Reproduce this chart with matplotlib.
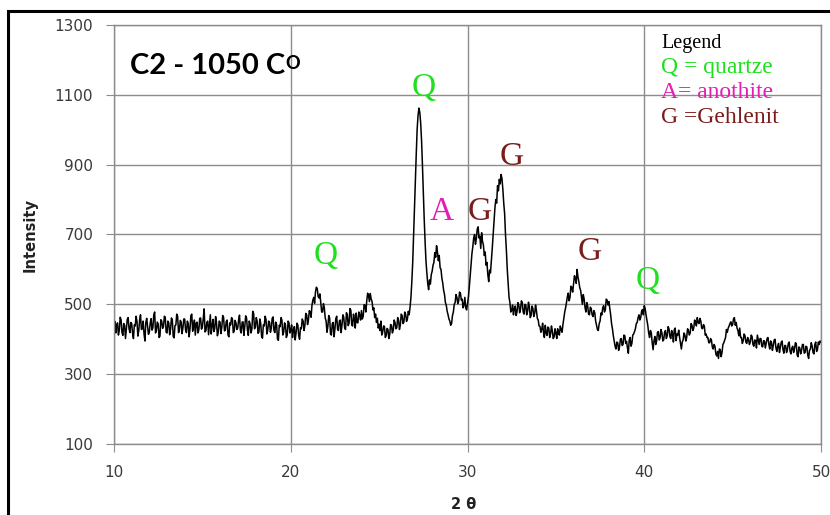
#XRD pattern of sample C2 fired at 1050 C with phase labels
import matplotlib
matplotlib.use("Agg")
import matplotlib.pyplot as plt
import numpy as np
from matplotlib.patches import Rectangle

# 2 theta from 10 to 50 in 0.05 deg steps
two_theta = np.round(np.arange(10, 50.025, 0.05), 2)

# intensity counts, one row per degree (x.00 .. x.95)
intensity = [
    432, 451, 418, 440, 447, 412, 425, 463, 456, 420, 411, 445, 440, 402, 428, 457, 462, 430, 419, 448,  # 10
    445, 417, 402, 441, 438, 466, 451, 409, 424, 455, 470, 428, 430, 452, 415, 395, 448, 460, 436, 414,  # 11
    421, 447, 459, 426, 433, 470, 478, 418, 426, 449, 444, 405, 409, 456, 452, 431, 437, 466, 463, 420,  # 12
    418, 452, 447, 413, 429, 461, 455, 408, 404, 439, 441, 472, 466, 419, 425, 454, 450, 416, 433, 458,  # 13
    458, 426, 419, 452, 445, 407, 430, 468, 472, 423, 438, 455, 412, 446, 449, 418, 427, 460, 461, 429,  # 14
    436, 459, 487, 421, 424, 448, 452, 413, 440, 470, 415, 439, 457, 422, 431, 465, 446, 410, 420, 452,  # 15
    449, 416, 434, 468, 463, 424, 426, 451, 455, 412, 407, 447, 441, 462, 458, 419, 423, 454, 447, 428,  # 16
    432, 455, 469, 425, 418, 449, 450, 411, 437, 467, 461, 426, 411, 452, 444, 418, 428, 480, 474, 430,  # 17
    435, 462, 452, 417, 421, 458, 446, 409, 403, 441, 438, 466, 457, 415, 426, 452, 449, 420, 431, 460,  # 18
    464, 425, 419, 449, 442, 400, 397, 440, 436, 462, 455, 412, 420, 447, 441, 405, 412, 452, 447, 418,  # 19
    428, 441, 405, 427, 436, 398, 418, 446, 441, 410, 400, 433, 430, 458, 452, 425, 439, 474, 470, 442,  # 20
    455, 482, 478, 463, 497, 512, 520, 503, 536, 549, 545, 522, 518, 530, 503, 478, 478, 502, 490, 461,  # 21
    452, 420, 437, 468, 461, 415, 412, 445, 448, 407, 430, 459, 466, 428, 425, 452, 455, 419, 441, 470,  # 22
    463, 432, 428, 476, 470, 439, 446, 488, 483, 441, 438, 472, 459, 432, 475, 448, 447, 478, 469, 455,  # 23
    482, 458, 466, 499, 497, 478, 510, 532, 525, 508, 531, 515, 508, 484, 490, 462, 472, 448, 460, 432,  # 24
    443, 425, 452, 412, 420, 438, 437, 405, 410, 431, 428, 402, 414, 442, 440, 418, 426, 455, 448, 430,  # 25
    433, 462, 455, 428, 441, 472, 468, 445, 449, 478, 472, 451, 458, 480, 470, 492, 520, 565, 620, 700,  # 26
    790, 860, 930, 1000, 1040, 1062, 1050, 1020, 970, 900, 820, 745, 680, 625, 590, 560, 542, 570, 558, 585,  # 27
    595, 612, 620, 648, 635, 668, 650, 625, 640, 605, 600, 575, 561, 540, 528, 505, 497, 480, 470, 458,  # 28
    452, 440, 445, 468, 478, 500, 505, 528, 520, 502, 509, 535, 532, 512, 515, 490, 498, 520, 490, 484,  # 29
    502, 520, 548, 580, 610, 645, 665, 690, 700, 672, 688, 715, 722, 690, 695, 660, 705, 680, 670, 640,  # 30
    650, 612, 620, 585, 565, 598, 590, 625, 660, 700, 740, 775, 800, 790, 840, 825, 858, 845, 872, 860,  # 31
    830, 790, 760, 700, 655, 600, 560, 520, 505, 478, 482, 498, 470, 488, 495, 468, 478, 505, 500, 476,  # 32
    486, 510, 505, 478, 472, 500, 498, 470, 480, 506, 493, 462, 468, 495, 488, 465, 474, 498, 482, 460,  # 33
    455, 438, 437, 420, 428, 446, 419, 405, 440, 418, 411, 435, 432, 405, 415, 438, 424, 402, 407, 430,  # 34
    418, 402, 430, 415, 412, 438, 428, 420, 442, 460, 478, 490, 505, 522, 532, 510, 520, 552, 548, 535,  # 35
    560, 582, 575, 560, 600, 578, 565, 548, 540, 520, 500, 528, 515, 490, 478, 505, 495, 472, 470, 492,  # 36
    488, 470, 465, 482, 476, 452, 440, 428, 425, 445, 452, 475, 470, 490, 496, 478, 485, 515, 512, 498,  # 37
    508, 488, 470, 445, 430, 410, 395, 380, 372, 392, 390, 368, 378, 400, 402, 382, 385, 412, 410, 388,  # 38
    394, 375, 360, 398, 405, 380, 388, 412, 415, 422, 430, 445, 448, 462, 470, 455, 462, 480, 485, 470,  # 39
    496, 488, 470, 455, 440, 418, 405, 425, 418, 390, 370, 395, 408, 385, 395, 420, 422, 398, 405, 428,  # 40
    418, 395, 398, 420, 425, 402, 410, 436, 430, 408, 402, 425, 415, 392, 428, 432, 396, 415, 412, 426,  # 41
    405, 388, 372, 392, 398, 418, 412, 395, 405, 430, 425, 412, 418, 445, 440, 425, 432, 455, 450, 438,  # 42
    462, 448, 445, 460, 452, 432, 430, 442, 438, 412, 415, 405, 405, 390, 390, 402, 398, 378, 372, 385,  # 43
    380, 358, 352, 365, 345, 372, 370, 350, 362, 385, 390, 398, 405, 428, 420, 432, 438, 445, 450, 438,  # 44
    442, 458, 462, 440, 448, 432, 425, 410, 432, 405, 405, 388, 396, 415, 410, 392, 388, 405, 400, 385,  # 45
    392, 412, 408, 385, 380, 398, 396, 375, 412, 398, 385, 402, 402, 380, 378, 396, 395, 375, 388, 402,  # 46
    405, 385, 372, 395, 390, 368, 382, 398, 400, 375, 365, 380, 388, 362, 376, 392, 395, 370, 360, 382,  # 47
    382, 362, 370, 388, 392, 365, 358, 375, 380, 362, 372, 390, 388, 355, 350, 378, 375, 358, 368, 385,  # 48
    385, 360, 362, 380, 378, 355, 345, 368, 372, 390, 380, 362, 358, 385, 392, 365, 370, 392, 385, 395,  # 49
    392,  # 50
]

# phase labels above the peaks
peak_letters = ["Q", "Q", "A", "G", "G", "G", "Q"]
peak_pos = [22.0, 27.5, 28.55, 30.7, 32.5, 36.9, 40.2]
peak_height = [640, 1120, 766, 766, 923, 650, 568]
peak_phase = ["quartz", "quartz", "anorthite", "gehlenite", "gehlenite", "gehlenite", "quartz"]

phase_colors = {"quartz": "#1fe01f", "anorthite": "#e21eb4", "gehlenite": "#7a1c1c"}
legend_lines = ["Q = quartze", "A= anothite", "G =Gehlenit"]
legend_phases = ["quartz", "anorthite", "gehlenite"]

fig = plt.figure(figsize=(8.3, 5.15), dpi=100)
ax = fig.add_axes([114 / 830, 1 - 444 / 515, 707 / 830, 419 / 515])

ax.plot(two_theta, intensity, color="black", lw=1.1)

ax.set_xlim(10, 50)
ax.set_ylim(100, 1300)
ax.set_xticks([10, 20, 30, 40, 50])
ax.set_yticks(range(100, 1301, 200))
ax.grid(True, color="#8c8c8c", lw=1.0)
ax.set_axisbelow(True)
for s in ax.spines.values():
    s.set_color("#8c8c8c")
    s.set_linewidth(1.0)
ax.tick_params(axis="both", colors="#8c8c8c", labelcolor="#3a3a3a", labelsize=11,
               length=6, direction="out")
ax.tick_params(axis="y", pad=9)
ax.tick_params(axis="x", pad=9)

ax.set_ylabel("Intensity", fontsize=10.5, fontweight="bold", color="#222222")
ax.set_xlabel("2 θ", fontsize=10.5, fontweight="bold", color="#222222")
ax.yaxis.set_label_coords(-0.1075, 0.5)
ax.xaxis.set_label_coords(0.495, -0.126)

# sample title with superscript degree
t = ax.text(10.9, 1160, "C2 - 1050 C", fontsize=21, fontweight="bold",
            family="Lato", va="baseline", ha="left")
ax.annotate("O", xy=(1.0, 0.93), xycoords=t, fontsize=13, fontweight="black",
            family="Lato", va="top", ha="left")

for letter, x, y, ph in zip(peak_letters, peak_pos, peak_height, peak_phase):
    ax.text(x, y, letter, fontsize=24, family="Liberation Serif",
            color=phase_colors[ph], ha="center", va="center")

ax.text(40.96, 1246, "Legend", fontsize=14.5, family="Liberation Serif",
        color="black", ha="left", va="center")
for i, (line, ph) in enumerate(zip(legend_lines, legend_phases)):
    ax.text(40.96, 1177 - i * 71, line, fontsize=17, family="Liberation Serif",
            color=phase_colors[ph], ha="left", va="center")

# outer frame around the chart
fig.patches.append(Rectangle((8 / 830, -0.2), 1.5, 1.2 - 11 / 515,
                             transform=fig.transFigure, fill=False,
                             edgecolor="black", lw=2.2))

fig.savefig("out.png", dpi=100)
